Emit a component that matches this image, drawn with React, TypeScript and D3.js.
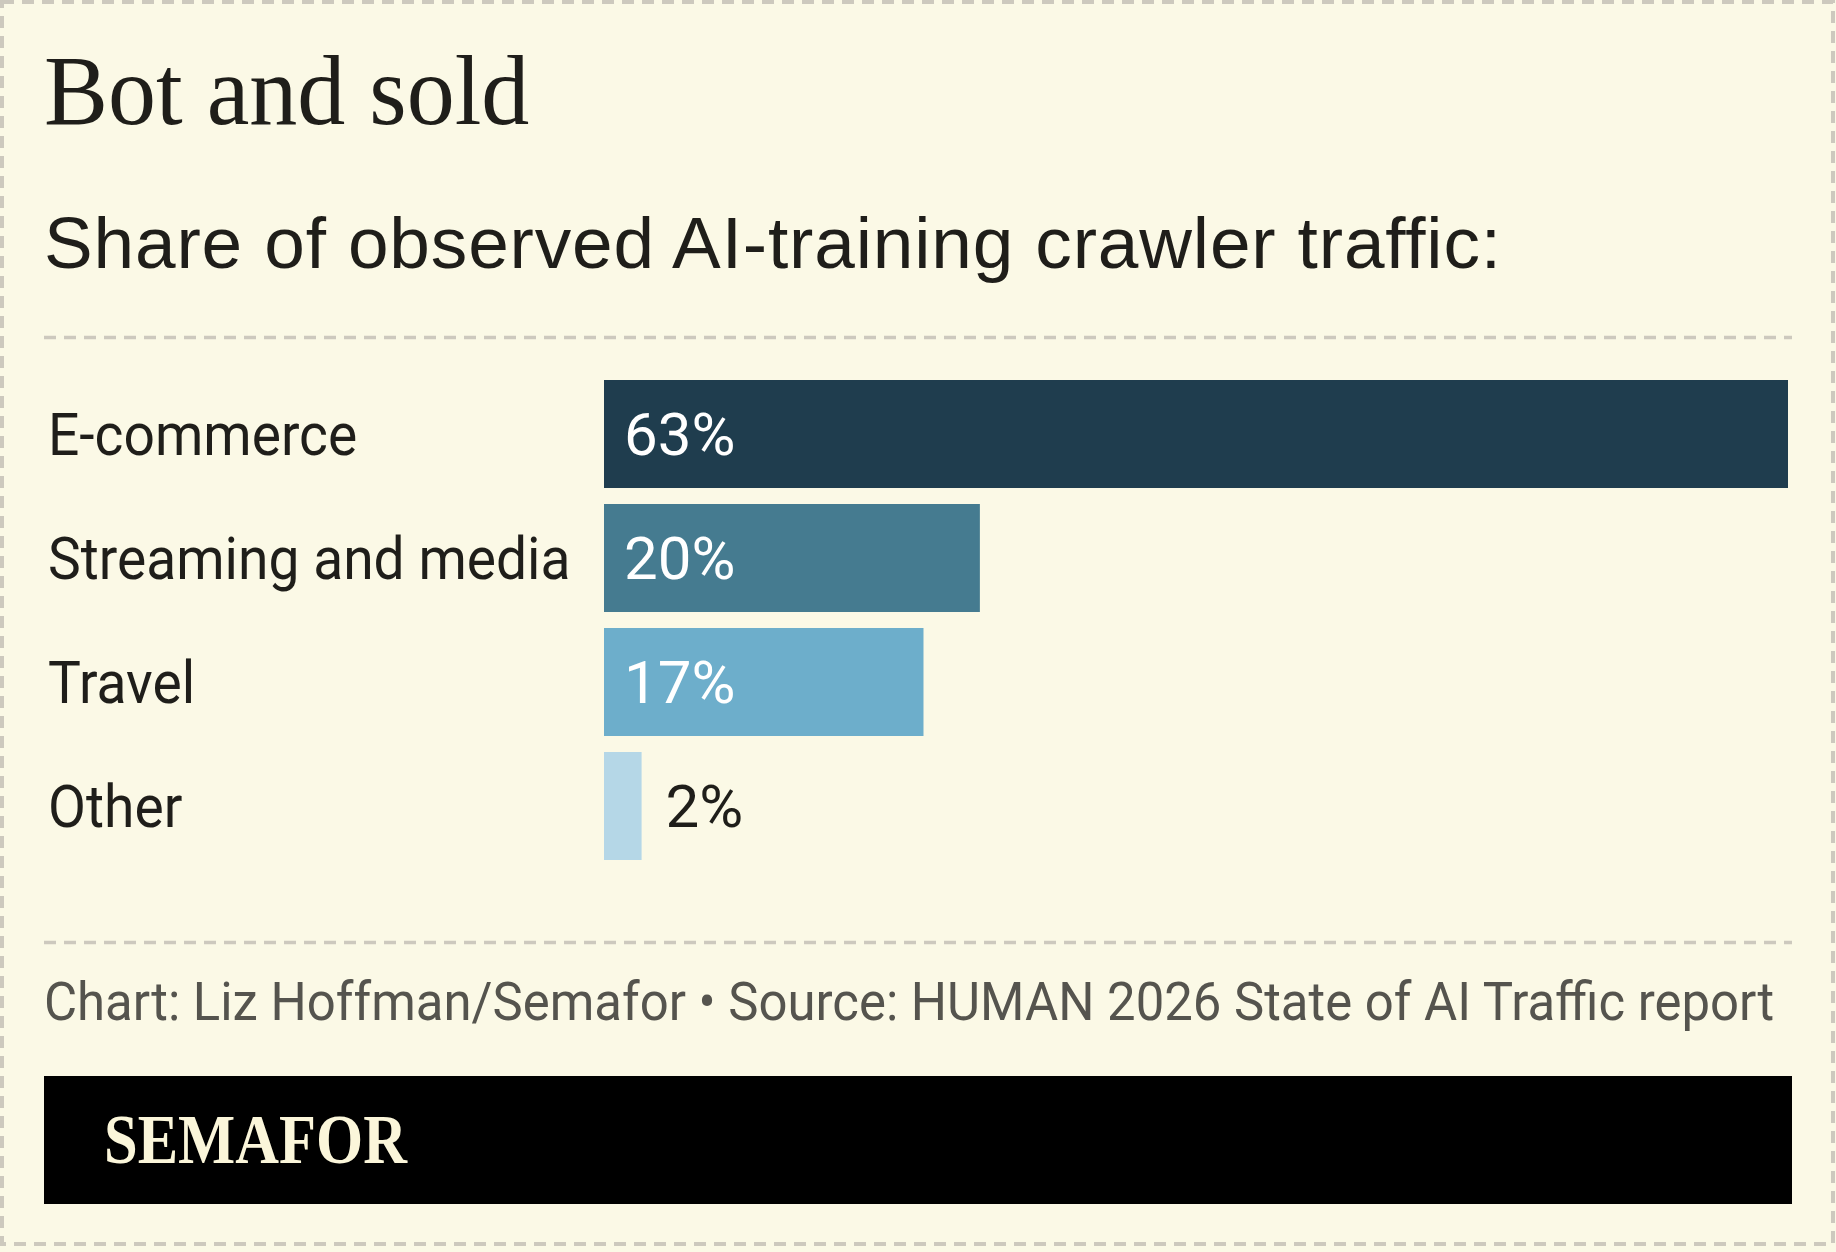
import React, { useRef, useEffect } from "react";
import * as d3 from "d3";

// Share of observed AI-training crawler traffic, by sector (%)
const categories = ["E-commerce", "Streaming and media", "Travel", "Other"];
const shares = [63, 20, 17, 2];
const barColors = ["#1F3D4E", "#457B90", "#6DAECB", "#B5D7E7"];

const title = "Bot and sold";
const subtitle = "Share of observed AI-training crawler traffic:";
const credit =
  "Chart: Liz Hoffman/Semafor \u2022 Source: HUMAN 2026 State of AI Traffic report";
const brand = "SEMAFOR";

const App = () => {
  const svgRef = useRef(null);
  const width = 1836;
  const height = 1252;
  const margin = { left: 44, right: 44 };
  const bg = "#FBF9E6";
  const ink = "#1F1E1A";
  const dash = "#CDC9BE";
  const sans = "Roboto, 'Liberation Sans', sans-serif";
  const serif = "'Liberation Serif', 'DejaVu Serif', serif";
  // Roboto is set a little narrower to get the condensed look
  const squeeze = 0.935;

  useEffect(() => {
    const svg = d3.select(svgRef.current);
    svg.selectAll("*").remove();

    svg.append("rect").attr("width", width).attr("height", height).attr("fill", bg);

    // dashed outer frame
    svg
      .append("rect")
      .attr("x", 2)
      .attr("y", 2)
      .attr("width", width - 5)
      .attr("height", height - 10)
      .attr("fill", "none")
      .attr("stroke", dash)
      .attr("stroke-width", 4)
      .attr("stroke-dasharray", "12 8");

    svg
      .append("text")
      .attr("transform", "translate(44,124) scale(0.96,1)")
      .attr("fill", ink)
      .style("font-family", serif)
      .style("font-size", "100px")
      .text(title);

    svg
      .append("text")
      .attr("x", 44)
      .attr("y", 268)
      .attr("fill", ink)
      .style("font-family", "'Liberation Sans', Arial, sans-serif")
      .style("font-size", "73px")
      .style("letter-spacing", "0.85px")
      .text(subtitle);

    const divider = (y) =>
      svg
        .append("line")
        .attr("x1", margin.left)
        .attr("x2", width - margin.right)
        .attr("y1", y)
        .attr("y2", y)
        .attr("stroke", dash)
        .attr("stroke-width", 3.5)
        .attr("stroke-dasharray", "12 8");

    divider(337.5);
    divider(942.5);

    // bars
    const x = d3.scaleLinear().domain([0, 63]).range([604, 1788]);
    const y = d3
      .scaleBand()
      .domain(categories)
      .range([380, 860])
      .paddingInner(0.129)
      .paddingOuter(0);

    const rows = svg
      .append("g")
      .selectAll("g")
      .data(categories)
      .join("g");

    rows
      .append("rect")
      .attr("x", x(0))
      .attr("y", (d) => y(d))
      .attr("width", (d, i) => x(shares[i]) - x(0))
      .attr("height", y.bandwidth())
      .attr("fill", (d, i) => barColors[i]);

    rows
      .append("text")
      .attr(
        "transform",
        (d) => `translate(48,${y(d) + y.bandwidth() / 2 + 21}) scale(${squeeze},1)`
      )
      .attr("fill", ink)
      .style("font-family", sans)
      .style("font-size", "59px")
      .text((d) => d);

    const inside = (i) => x(shares[i]) - x(0) > 150;

    rows
      .append("text")
      .attr("transform", (d, i) => {
        const tx = inside(i) ? x(0) + 20 : x(shares[i]) + 24;
        return `translate(${tx},${y(d) + y.bandwidth() / 2 + 21})`;
      })
      .attr("fill", (d, i) => (inside(i) ? "#FFFFFF" : ink))
      .style("font-family", sans)
      .style("font-size", "60px")
      .text((d, i) => `${shares[i]}%`);

    svg
      .append("text")
      .attr("transform", "translate(44,1020) scale(0.96,1)")
      .attr("fill", "#55544E")
      .style("font-family", sans)
      .style("font-size", "53px")
      .text(credit);

    // brand bar
    svg
      .append("rect")
      .attr("x", margin.left)
      .attr("y", 1076)
      .attr("width", width - margin.left - margin.right)
      .attr("height", 128)
      .attr("fill", "#000000");

    svg
      .append("text")
      .attr("x", 104)
      .attr("y", 1163)
      .attr("fill", "#FBF6DA")
      .attr("textLength", 303)
      .attr("lengthAdjust", "spacingAndGlyphs")
      .style("font-family", serif)
      .style("font-weight", "700")
      .style("font-size", "70px")
      .text(brand);
  }, []);

  return (
    <svg
      ref={svgRef}
      width={width}
      height={height}
      style={{ position: "absolute", left: 0, top: 0, display: "block" }}
    ></svg>
  );
};

export default App;
